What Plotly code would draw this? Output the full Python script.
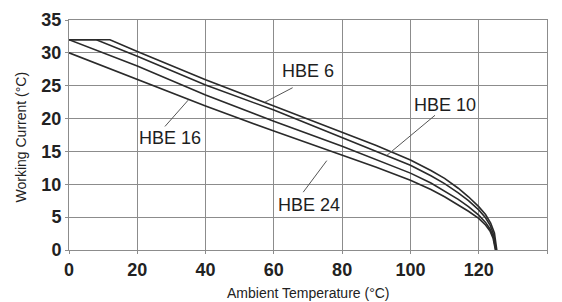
import plotly.graph_objects as go

# Data
hbe6_x = [0, 12, 20, 40, 60, 80, 90, 100, 106, 110, 114, 117, 120, 122, 123.5, 124.6, 125.3]
hbe6_y = [32, 32, 30.2, 25.9, 21.9, 17.9, 15.9, 13.7, 12.1, 10.9, 9.4, 8.1, 6.6, 5.4, 4.1, 2.6, 0]

hbe10_x = [0, 8, 20, 40, 60, 80, 90, 100, 106, 110, 114, 117, 120, 122, 123.4, 124.4, 125.1]
hbe10_y = [32, 32, 29.5, 25.1, 21.3, 17.1, 15.0, 12.9, 11.3, 10.1, 8.7, 7.5, 6.1, 4.9, 3.7, 2.3, 0]

hbe16_x = [0, 20, 40, 60, 80, 90, 100, 106, 110, 114, 117, 120, 122, 123.3, 124.3, 125]
hbe16_y = [32, 28.0, 23.6, 19.6, 15.8, 13.8, 11.7, 10.2, 9.0, 7.7, 6.6, 5.3, 4.2, 3.2, 2.0, 0]

hbe24_x = [0, 20, 40, 60, 80, 90, 100, 106, 110, 114, 117, 120, 122, 123.3, 124.2, 124.9]
hbe24_y = [30, 25.9, 21.9, 18.1, 14.5, 12.6, 10.6, 9.2, 8.1, 6.9, 5.9, 4.8, 3.8, 2.9, 1.8, 0]

series_names = ["HBE 6", "HBE 10", "HBE 16", "HBE 24"]
x_ticks = [0, 20, 40, 60, 80, 100, 120, 140]
y_ticks = [0, 5, 10, 15, 20, 25, 30, 35]

fig = go.Figure()
for name, xs, ys in zip(series_names,
                        [hbe6_x, hbe10_x, hbe16_x, hbe24_x],
                        [hbe6_y, hbe10_y, hbe16_y, hbe24_y]):
    fig.add_trace(go.Scatter(x=xs, y=ys, mode="lines", name=name,
                             line=dict(color="#2a2a2a", width=1.6, shape="linear"),
                             showlegend=False, hoverinfo="skip"))

grid = "#8c8c8c"
fig.update_xaxes(range=[0, 140], tickvals=x_ticks, showgrid=True, gridcolor=grid, gridwidth=1,
                 showline=True, linecolor=grid, linewidth=1, mirror=True,
                 ticks="outside", ticklen=3, tickcolor=grid, zeroline=False,
                 tickfont=dict(family="Liberation Sans, Arial", size=18, color="#222", weight="bold"))
fig.update_yaxes(range=[0, 35], tickvals=y_ticks, showgrid=True, gridcolor=grid, gridwidth=1,
                 showline=True, linecolor=grid, linewidth=1, mirror=True,
                 ticks="outside", ticklen=3, tickcolor=grid, zeroline=False,
                 tickfont=dict(family="Liberation Sans, Arial", size=18, color="#222", weight="bold"))

label_font = dict(family="Liberation Sans, Arial", size=18, color="#1e1e1e")
labels = [("HBE 6", 70.0, 27.2), ("HBE 10", 110.1, 22.1), ("HBE 16", 29.5, 17.0), ("HBE 24", 70.3, 6.8)]
for text, lx, ly in labels:
    fig.add_annotation(x=lx, y=ly, xref="x", yref="y", text=text, showarrow=False, font=label_font)

pointers = [(65.5, 24.7, 57.4, 22.5), (107.2, 20.5, 93.1, 14.4), (28.1, 18.8, 34.9, 22.8), (68.6, 8.8, 75.5, 13.6)]
for x0, y0, x1, y1 in pointers:
    fig.add_shape(type="line", x0=x0, y0=y0, x1=x1, y1=y1, xref="x", yref="y",
                  line=dict(color="#555", width=1))

title_font = dict(family="Liberation Sans, Arial", size=14, color="#222")
fig.add_annotation(x=0.5, y=-0.185, xref="paper", yref="paper", text="Ambient Temperature (°C)",
                   showarrow=False, font=title_font, xanchor="center", yanchor="middle")
fig.add_annotation(x=-0.1, y=0.49, xref="paper", yref="paper", text="Working Current (°C)",
                   showarrow=False, font=title_font, textangle=-90, xanchor="center", yanchor="middle")

# page body adds an 8px offset, so the figure is sized to fit the 562x302 window
fig.update_layout(width=554, height=294,
                  margin=dict(l=61, r=15, t=12, b=52, autoexpand=False),
                  plot_bgcolor="white", paper_bgcolor="white")

fig.write_html("out.html")
